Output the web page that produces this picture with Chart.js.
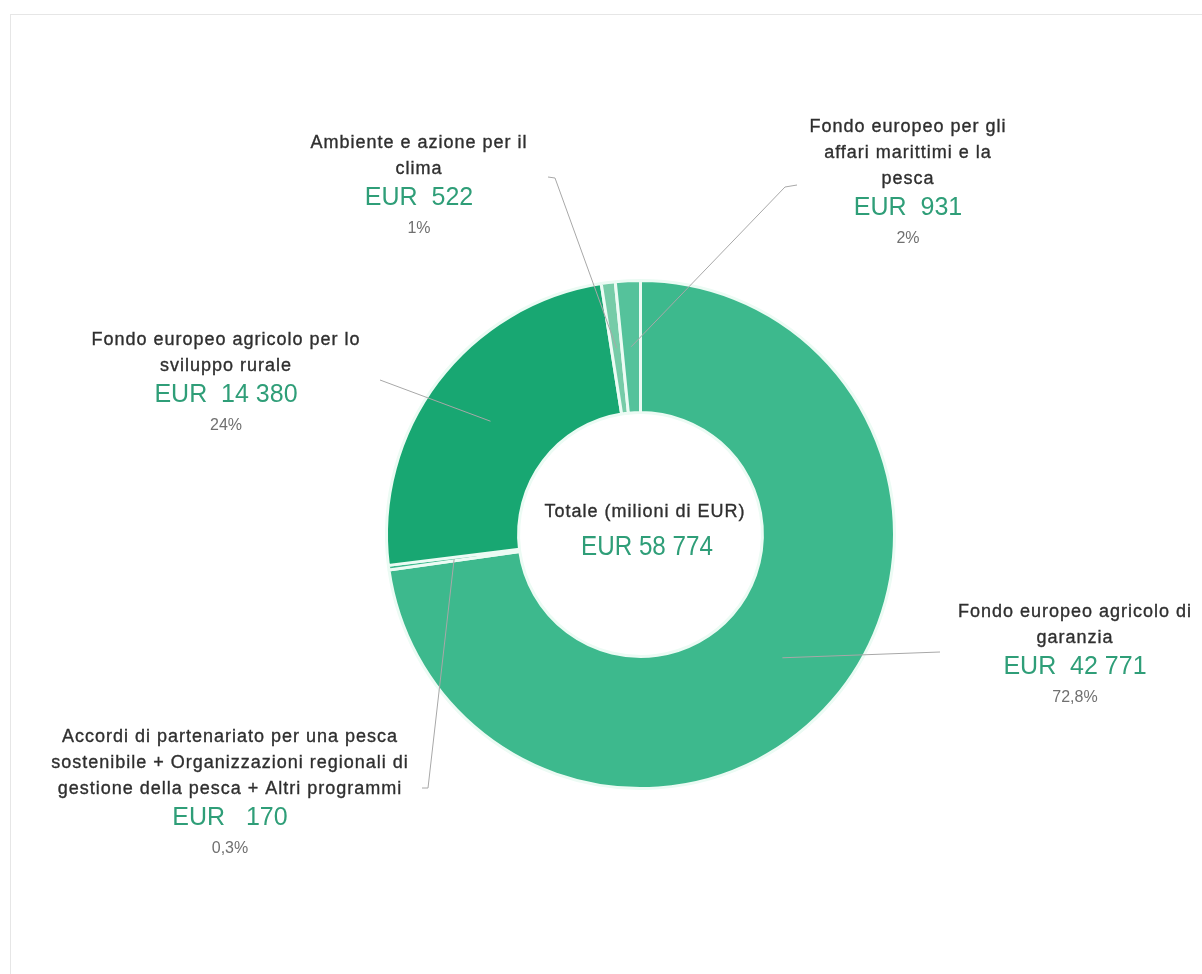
<!DOCTYPE html>
<html>
<head>
<meta charset="utf-8">
<script src="https://cdn.jsdelivr.net/npm/chart.js@4.4.0/dist/chart.umd.min.js"></script>
<style>
  html, body { margin: 0; padding: 0; background: #fff; }
  #wrap { position: relative; width: 1202px; height: 974px; overflow: hidden; }
  #frame { position: absolute; left: 10px; top: 14px; width: 1200px; height: 980px;
           border-top: 1px solid #e6e6e6; border-left: 1px solid #e6e6e6; }
  canvas { position: absolute; left: 0; top: 0; }
</style>
</head>
<body>
<div id="wrap">
  <div id="frame"></div>
  <canvas id="pie" width="1202" height="974"></canvas>
</div>
<script>
// dati (milioni di EUR), in senso orario dall'alto
const categories = [
  "Fondo europeo agricolo di\ngaranzia",
  "Accordi di partenariato per una pesca\nsostenibile + Organizzazioni regionali di\ngestione della pesca + Altri programmi",
  "Fondo europeo agricolo per lo\nsviluppo rurale",
  "Ambiente e azione per il\nclima",
  "Fondo europeo per gli\naffari marittimi e la\npesca"
];
const values = [42771, 170, 14380, 522, 931];
const percentLabels = ["72,8%", "0,3%", "24%", "1%", "2%"];
const valueGaps = ["  ", "   ", "  ", "  ", "  "];
const sliceColors = ["#3db98d", "#3db98d", "#18a772", "#76cca8", "#55c29b"];
const totalTitle = "Totale (milioni di EUR)";

const fmt = v => String(v).replace(/\B(?=(\d{3})+(?!\d))/g, " ");
const total = values.reduce((a, b) => a + b, 0);

// posizione delle etichette e dei richiami
const labelLayout = [
  { x: 1075, y: 612, line: [[940, 652]] },
  { x: 230, y: 737, line: [[422, 788], [428, 788]] },
  { x: 226, y: 340, line: [[380, 380]] },
  { x: 419, y: 143, line: [[548, 177], [555, 178]] },
  { x: 908, y: 127, line: [[797, 185], [785, 187]] }
];

const FONT = '"Liberation Sans", Arial, sans-serif';
const GREEN = "#2f9e78";

const labelPlugin = {
  id: "sliceLabels",
  afterDraw(chart) {
    const ctx = chart.ctx;
    const arcs = chart.getDatasetMeta(0).data;
    ctx.save();
    ctx.textAlign = "center";
    ctx.textBaseline = "middle";
    arcs.forEach((arc, i) => {
      const L = labelLayout[i];
      const p = arc.getProps(["x", "y", "startAngle", "endAngle", "innerRadius", "outerRadius"], true);
      const mid = (p.startAngle + p.endAngle) / 2;
      const r = (p.innerRadius + p.outerRadius) / 2;
      // richiamo
      ctx.strokeStyle = "#a8a8a8";
      ctx.lineWidth = 1;
      ctx.beginPath();
      ctx.moveTo(L.line[0][0], L.line[0][1]);
      L.line.slice(1).forEach(pt => ctx.lineTo(pt[0], pt[1]));
      ctx.lineTo(p.x + Math.cos(mid) * r, p.y + Math.sin(mid) * r);
      ctx.stroke();

      // testo
      let y = L.y;
      ctx.letterSpacing = "1px";
      ctx.fillStyle = "#2f2f2f";
      ctx.strokeStyle = "#2f2f2f";
      ctx.lineWidth = 0.35;
      ctx.font = "18px " + FONT;
      const lines = categories[i].split("\n");
      lines.forEach((t, k) => {
        ctx.fillText(t, L.x, y + k * 26);
        ctx.strokeText(t, L.x, y + k * 26);
      });
      y += (lines.length - 1) * 26 + 29;
      ctx.letterSpacing = "0px";
      ctx.fillStyle = GREEN;
      ctx.font = "25px " + FONT;
      ctx.fillText("EUR" + valueGaps[i] + fmt(values[i]), L.x, y);
      ctx.fillStyle = "#707070";
      ctx.font = "16px " + FONT;
      ctx.fillText(percentLabels[i], L.x, y + 31);
    });

    // totale al centro
    ctx.letterSpacing = "1px";
    ctx.fillStyle = "#2f2f2f";
    ctx.strokeStyle = "#2f2f2f";
    ctx.lineWidth = 0.35;
    ctx.font = "18px " + FONT;
    ctx.fillText(totalTitle, 645, 512);
    ctx.strokeText(totalTitle, 645, 512);
    ctx.letterSpacing = "0px";
    ctx.fillStyle = GREEN;
    ctx.font = "28px " + FONT;
    ctx.fillText("EUR " + fmt(total), 647, 547, 132);
    ctx.restore();
  }
};

new Chart(document.getElementById("pie"), {
  type: "doughnut",
  data: {
    labels: categories,
    datasets: [{
      data: values,
      backgroundColor: sliceColors,
      borderColor: "#ecfbf4",
      borderWidth: 3
    }]
  },
  options: {
    responsive: false,
    animation: false,
    cutout: "48%",
    rotation: 0,
    layout: { padding: { left: 385, right: 306, top: 279, bottom: 184 } },
    plugins: {
      legend: { display: false },
      tooltip: { enabled: false }
    }
  },
  plugins: [labelPlugin]
});
</script>
</body>
</html>
